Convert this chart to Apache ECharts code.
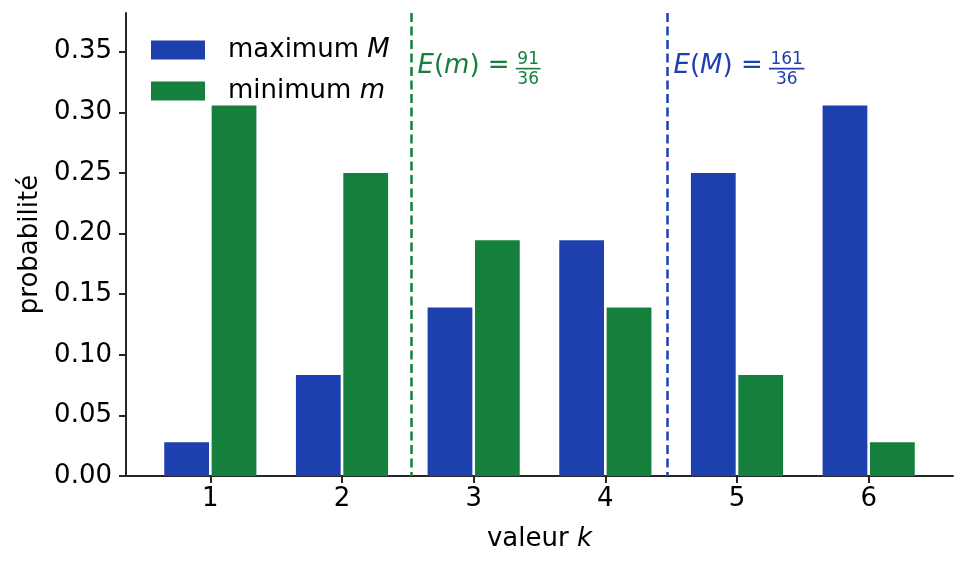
<!DOCTYPE html>
<html>
<head>
<meta charset="utf-8">
<script src="https://cdn.jsdelivr.net/npm/echarts@6/dist/echarts.min.js"></script>
<style>
  html, body { margin: 0; padding: 0; background: #fff; }
  #chart { width: 966px; height: 569px; }
</style>
</head>
<body>
<div id="chart"></div>
<script>
// valeurs k du dé et probabilités
const kValues = [1, 2, 3, 4, 5, 6];
const maxProb = [0.0278, 0.0833, 0.1389, 0.1944, 0.2500, 0.3056];
const minProb = [0.3056, 0.2500, 0.1944, 0.1389, 0.0833, 0.0278];
const yTicks = [0, 0.05, 0.10, 0.15, 0.20, 0.25, 0.30, 0.35];

// espérances E(m) = 91/36 et E(M) = 161/36
const meanValues = [2.5278, 4.4722];
const meanVars = ['m', 'M'];
const meanNum = ['91', '161'];
const meanDen = ['36', '36'];

const legendWords = ['maximum', 'minimum'];
const legendVars = ['M', 'm'];

const FONT = '"DejaVu Sans", sans-serif';
const BLUE = '#1e40af';
const GREEN = '#15803d';
const AXIS = '#262626';
const Y_MAX = 0.3819;
const LABEL_Y = 0.338;

const ctx = document.createElement('canvas').getContext('2d');
function textWidth(str, font) {
  ctx.font = font;
  return ctx.measureText(str).width;
}

function barSeries(name, values, offset, color) {
  return {
    type: 'custom',
    name: name,
    itemStyle: { color: color },
    encode: { x: 0, y: 1 },
    data: kValues.map((k, i) => [k, values[i]]),
    renderItem: function (params, api) {
      const k = api.value(0), p = api.value(1);
      const a = api.coord([k + offset - 0.17, p]);
      const b = api.coord([k + offset + 0.17, 0]);
      return {
        type: 'rect',
        shape: { x: a[0], y: a[1], width: b[0] - a[0], height: b[1] - a[1] },
        style: { fill: color }
      };
    }
  };
}

const meanColors = [GREEN, BLUE];

const meanSeries = {
  type: 'custom',
  name: 'esperance',
  silent: true,
  encode: { x: 0, y: 1 },
  data: meanValues.map(v => [v, LABEL_Y]),
  renderItem: function (params, api) {
    const i = params.dataIndex;
    const x = api.value(0);
    const color = meanColors[i];
    const top = api.coord([x, Y_MAX]);
    const bottom = api.coord([x, 0]);
    const anchor = api.coord([x, api.value(1)]);
    const tx = anchor[0] + 6;
    const ty = anchor[1];
    const mainW = textWidth('E', 'italic 26px ' + FONT) +
      textWidth('(', '26px ' + FONT) +
      textWidth(meanVars[i], 'italic 26px ' + FONT) +
      textWidth(') = ', '26px ' + FONT);
    const fx = tx + mainW - 2;
    const fw = Math.max(textWidth(meanNum[i], '17px ' + FONT), textWidth(meanDen[i], '17px ' + FONT)) + 3;
    return {
      type: 'group',
      children: [
        {
          type: 'line',
          shape: { x1: top[0], y1: top[1], x2: bottom[0], y2: bottom[1] },
          style: { stroke: color, lineWidth: 2.5, lineDash: [9, 4.5] }
        },
        {
          type: 'text',
          x: tx, y: ty,
          style: {
            text: '{i|E}(' + '{i|' + meanVars[i] + '}) =',
            fill: color, fontSize: 26, fontFamily: FONT,
            align: 'left', verticalAlign: 'middle',
            rich: { i: { fontStyle: 'italic', fontSize: 26, fontFamily: FONT, fill: color } }
          }
        },
        {
          type: 'text',
          x: fx + fw / 2, y: ty - 6.5,
          style: { text: meanNum[i], fill: color, fontSize: 17, fontFamily: FONT, align: 'center', verticalAlign: 'middle' }
        },
        {
          type: 'rect',
          shape: { x: fx, y: ty + 1.6, width: fw, height: 1.6 },
          style: { fill: color }
        },
        {
          type: 'text',
          x: fx + fw / 2, y: ty + 13,
          style: { text: meanDen[i], fill: color, fontSize: 17, fontFamily: FONT, align: 'center', verticalAlign: 'middle' }
        }
      ]
    };
  }
};

const chart = echarts.init(document.getElementById('chart'), null, { renderer: 'canvas' });

chart.setOption({
  animation: false,
  backgroundColor: '#fff',
  textStyle: { fontFamily: FONT },
  grid: { left: 126, right: 13, top: 13, bottom: 93, containLabel: false },
  legend: {
    data: ['max', 'min'],
    orient: 'vertical',
    left: 151,
    top: 37,
    padding: 0,
    icon: 'rect',
    itemWidth: 54,
    itemHeight: 19,
    itemGap: 15,
    selectedMode: false,
    formatter: function (name) {
      const i = name === 'max' ? 0 : 1;
      return legendWords[i] + ' {i|' + legendVars[i] + '}';
    },
    textStyle: {
      fontSize: 26, fontFamily: FONT, color: '#000',
      padding: [0, 0, 0, 18],
      rich: { i: { fontStyle: 'italic', fontSize: 26, fontFamily: FONT, color: '#000' } }
    }
  },
  xAxis: {
    type: 'value',
    min: 0.3595,
    max: 6.6405,
    name: 'valeur {i|k}',
    nameLocation: 'middle',
    nameGap: 50,
    nameTextStyle: {
      fontSize: 26, fontFamily: FONT, color: '#000',
      rich: { i: { fontStyle: 'italic', fontSize: 26, fontFamily: FONT, color: '#000' } }
    },
    splitLine: { show: false },
    axisLine: { show: true, onZero: false, lineStyle: { color: AXIS, width: 2 } },
    axisTick: { show: true, length: 7, lineStyle: { color: AXIS, width: 2 }, customValues: kValues },
    axisLabel: { fontSize: 26, fontFamily: FONT, color: '#000', margin: 10, customValues: kValues }
  },
  yAxis: {
    type: 'value',
    min: 0,
    max: Y_MAX,
    name: 'probabilité',
    nameLocation: 'middle',
    nameGap: 82,
    nameTextStyle: { fontSize: 26, fontFamily: FONT, color: '#000' },
    splitLine: { show: false },
    axisLine: { show: true, lineStyle: { color: AXIS, width: 2 } },
    axisTick: { show: true, length: 7, lineStyle: { color: AXIS, width: 2 }, customValues: yTicks },
    axisLabel: {
      fontSize: 26, fontFamily: FONT, color: '#000', margin: 14,
      customValues: yTicks,
      formatter: v => v.toFixed(2)
    }
  },
  series: [
    barSeries('max', maxProb, -0.18, BLUE),
    barSeries('min', minProb, 0.18, GREEN),
    meanSeries
  ]
});
</script>
</body>
</html>
